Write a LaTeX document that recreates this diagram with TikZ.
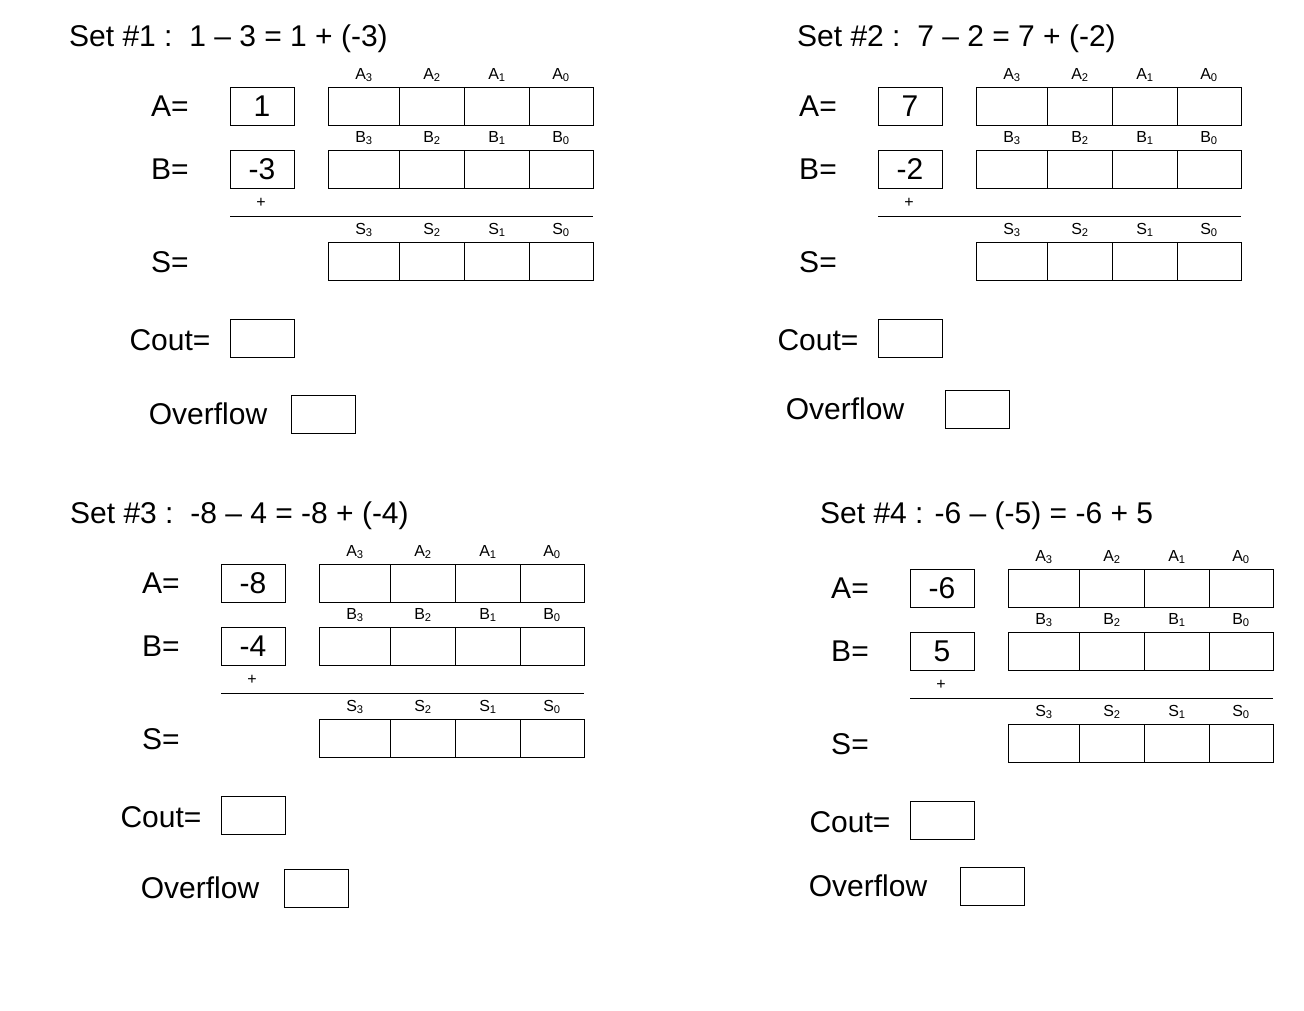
\documentclass[tikz,border=0pt]{standalone}
\usepackage{fontspec}
\setmainfont{Liberation Sans}
\tikzset{x=1pt,y=-1pt,
 big/.style={font=\fontsize{30}{32}\selectfont,inner sep=0pt},
 small/.style={font=\fontsize{16}{18}\selectfont,inner sep=0pt},
 box/.style={draw,line width=1pt,minimum width=64pt,minimum height=38pt,inner sep=0pt,font=\fontsize{30}{32}\selectfont},
 bit/.style={draw,line width=1pt,minimum height=38pt,inner sep=0pt}}
\newcommand{\bitrow}[3]{% prefix, y, letter
 \node[bit,minimum width=71pt] (#1r3) at (363.5,#2) {};
 \node[bit,minimum width=65pt] (#1r2) at (431.5,#2) {};
 \node[bit,minimum width=65pt] (#1r1) at (496.5,#2) {};
 \node[bit,minimum width=64pt] (#1r0) at (561,#2) {};
 \node[small] (#1l3) at (364,#2-31) {#3\textsubscript{3}};
 \node[small] (#1l2) at (432,#2-31) {#3\textsubscript{2}};
 \node[small] (#1l1) at (497,#2-31) {#3\textsubscript{1}};
 \node[small] (#1l0) at (561,#2-31) {#3\textsubscript{0}};}
\newcommand{\panel}[9]{% name dx dy title a b ovx ovy ovtx
\begin{scope}[shift={(#2,#3)}]
 \node[big,anchor=west] (#1t) at (0,0) {#4};
 \node[big] (#1A) at (170,106) {A=};
 \node[box] (#1a) at (262,106) {#5};
 \bitrow{#1A}{106}{A}
 \node[big] (#1B) at (170,169) {B=};
 \node[box] (#1b) at (262,169) {#6};
 \bitrow{#1B}{169}{B}
 \node[small] (#1p) at (261,203) {+};
 \coordinate (#1h1) at (230,216); \coordinate (#1h2) at (593,216);
 \draw[line width=1pt] (#1h1) -- (#1h2);
 \bitrow{#1S}{261}{S}
 \node[big] (#1S) at (170,262) {S=};
 \node[big] (#1C) at (170,340) {Cout=};
 \node[box] (#1c) at (262,338) {};
 \node[big] (#1O) at (#9,#8) {Overflow};
 \node[box] (#1o) at (#7,#8) {};
\end{scope}}
\begin{document}
\begin{tikzpicture}
\useasboundingbox (0,0) rectangle (1304,1010);
\panel{p}{0}{0}{}{1}{-3}{323}{414}{208}
\node[big,anchor=west] (t1) at (69,39) {Set \#1 :\ \ 1 -- 3 = 1 + (-3)};
\panel{q}{648}{0}{}{7}{-2}{329}{409}{197}
\node[big,anchor=west] (t2) at (797,39) {Set \#2 :\ \ 7 -- 2 = 7 + (-2)};
\panel{r}{-9}{477}{}{-8}{-4}{325}{411}{209}
\node[big,anchor=west] (t3) at (70,516) {Set \#3 :\ \ -8 -- 4 = -8 + (-4)};
\panel{s}{680}{482}{}{-6}{5}{312}{404}{188}
\node[big,anchor=west] (t4) at (820,516) {Set \#4 : -6 -- (-5) = -6 + 5};
\end{tikzpicture}
\end{document}
